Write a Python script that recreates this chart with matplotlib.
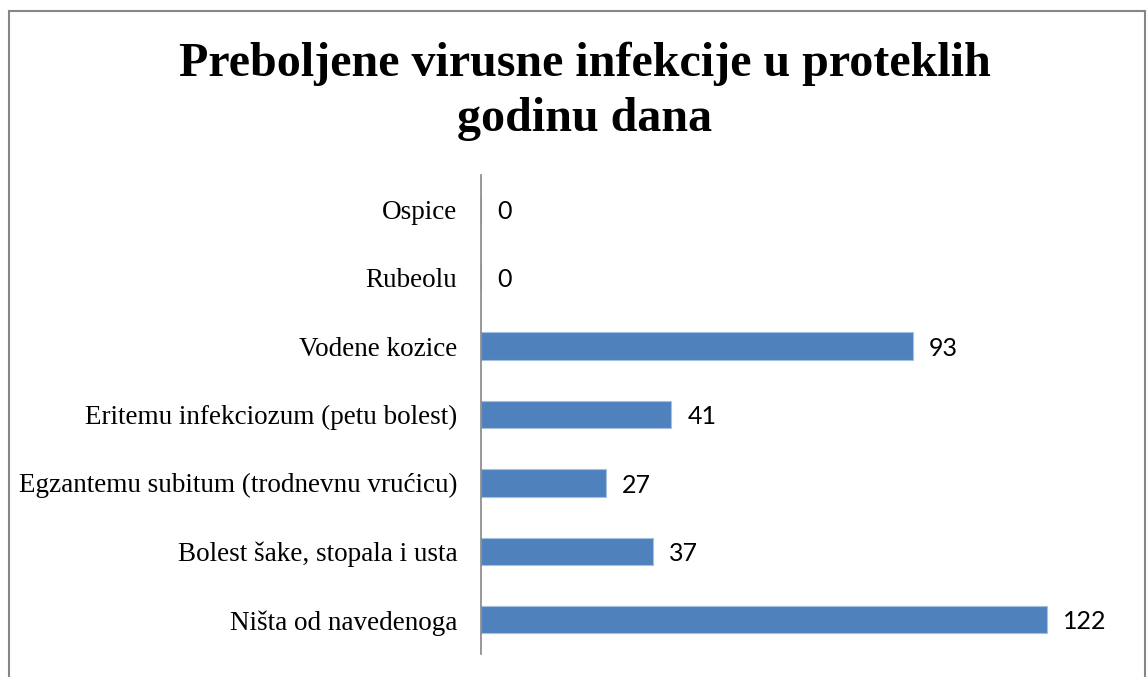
import numpy as np
import matplotlib.pyplot as plt
from matplotlib.patches import Rectangle

categories = ['Ništa od navedenoga',
              'Bolest šake, stopala i usta',
              'Egzantemu subitum (trodnevnu vrućicu)',
              'Eritemu infekciozum (petu bolest)',
              'Vodene kozice',
              'Rubeolu',
              'Ospice']
values = [122, 37, 27, 41, 93, 0, 0]
title = 'Preboljene virusne infekcije u proteklih\ngodinu dana'

fig = plt.figure(figsize=(11.48, 6.77), dpi=100)
ax = fig.add_axes([481/1148, 23/677, 650/1148, 479/677])

y = np.arange(len(categories))
ax.barh(y, values, height=0.4, color='#4F81BD', edgecolor='#A7C0DE', linewidth=0.8)
ax.set_xlim(0, 140)
ax.set_ylim(-0.5, len(categories) - 0.5)
ax.set_yticks(y)
ax.set_yticklabels(categories, family='Liberation Serif', fontsize=19.5)
ax.tick_params(axis='y', length=0, pad=17)
ax.set_xticks([])
for s in ['top', 'right', 'bottom']:
    ax.spines[s].set_visible(False)
ax.spines['left'].set_color('#868686')
ax.spines['left'].set_linewidth(1.2)

for yi, v in zip(y, values):
    ax.annotate(str(v), (v, yi), xytext=(11.5, -1.5), textcoords='offset points',
                va='center', ha='left', family='Lato', fontsize=18)

fig.text(585/1148, 1 - 42/677, title, ha='center', va='top', family='Liberation Serif',
         fontweight='bold', fontsize=34.6, linespacing=1.3)

fig.patches.append(Rectangle((9/1148, -0.1), (1145 - 9)/1148, 1.1 - 11/677,
                             transform=fig.transFigure, fill=False,
                             edgecolor='#868686', linewidth=1.5))

fig.savefig('out.png', dpi=100)
